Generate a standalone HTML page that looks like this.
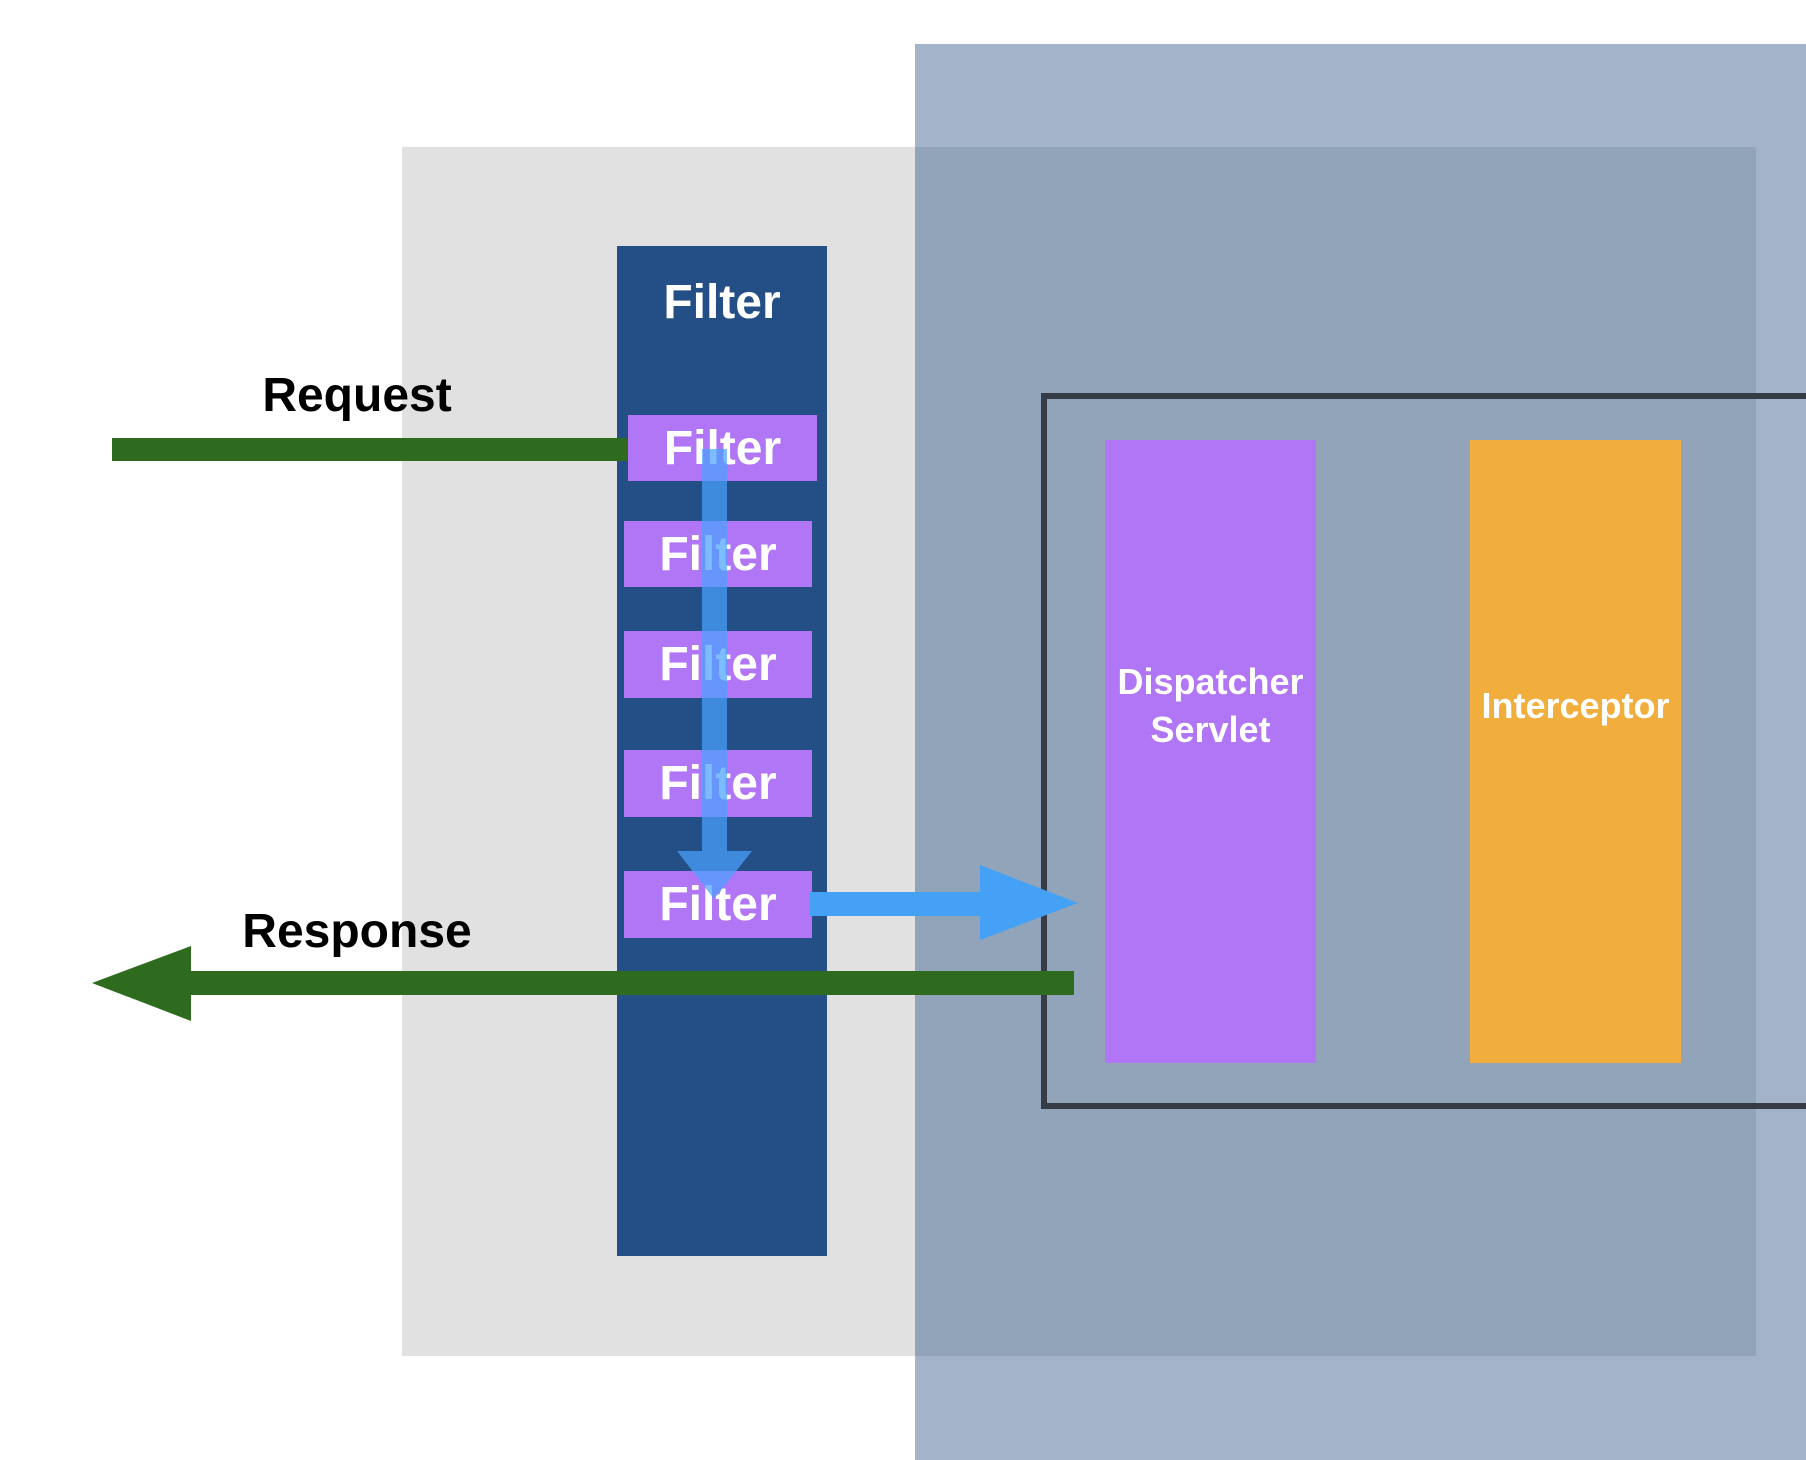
<!DOCTYPE html>
<html><head><meta charset="utf-8"><style>
body{margin:0;width:1806px;height:1460px;background:#fff;overflow:hidden;position:relative;font-family:"Liberation Sans",sans-serif;font-weight:bold}
div{position:absolute;box-sizing:border-box}
.f{background:#b176f5;color:#fff;font-size:48px;text-align:center;line-height:68px}
</style></head><body>
<div style="left:402px;top:147px;width:1354px;height:1209px;background:#e1e1e1"></div>
<div style="left:915px;top:44px;width:891px;height:1416px;background:#a3b4ca"></div>
<div style="left:915px;top:147px;width:841px;height:1209px;background:#92a4ba"></div>
<div style="left:617px;top:246px;width:210px;height:1010px;background:#234e86"></div>
<div style="left:617px;top:275px;width:210px;text-align:center;color:#fff;font-size:48px">Filter</div>
<div style="left:1041px;top:393px;width:800px;height:716px;border:6px solid #353c46"></div>
<div style="left:1105px;top:440px;width:211px;height:623px;background:#b176f5;color:#fff;font-size:36px;text-align:center;padding-top:218px;line-height:48px">Dispatcher<br>Servlet</div>
<div style="left:1470px;top:440px;width:211px;height:623px;background:#f2ae3d;color:#fff;font-size:36px;text-align:center;padding-top:242px;line-height:48px">Interceptor</div>
<div style="left:112px;top:438px;width:520px;height:23px;background:#2e6b1e"></div>
<div class="f" style="left:628px;top:415px;width:189px;height:66px">Filter</div>
<div class="f" style="left:624px;top:521px;width:188px;height:66px">Filter</div>
<div class="f" style="left:624px;top:631px;width:188px;height:67px">Filter</div>
<div class="f" style="left:624px;top:750px;width:188px;height:67px">Filter</div>
<div class="f" style="left:624px;top:871px;width:188px;height:67px">Filter</div>
<svg width="1806" height="1460" style="position:absolute;left:0;top:0">
<g fill="#4aa2ff" opacity="0.72">
<rect x="702" y="449" width="25" height="403"/>
<polygon points="677,851 752,851 714,899"/>
</g>
<polygon fill="#44a1f6" points="810,892 980,892 980,865 1078,903 980,940 980,916 810,916"/>
<polygon fill="#2e6b1e" points="1074,971 191,971 191,946 92,983 191,1021 191,995 1074,995"/>
<text x="357" y="411" font-size="48" text-anchor="middle" font-family="Liberation Sans" font-weight="bold">Request</text>
<text x="357" y="947" font-size="48" text-anchor="middle" font-family="Liberation Sans" font-weight="bold">Response</text>
</svg>
</body></html>
